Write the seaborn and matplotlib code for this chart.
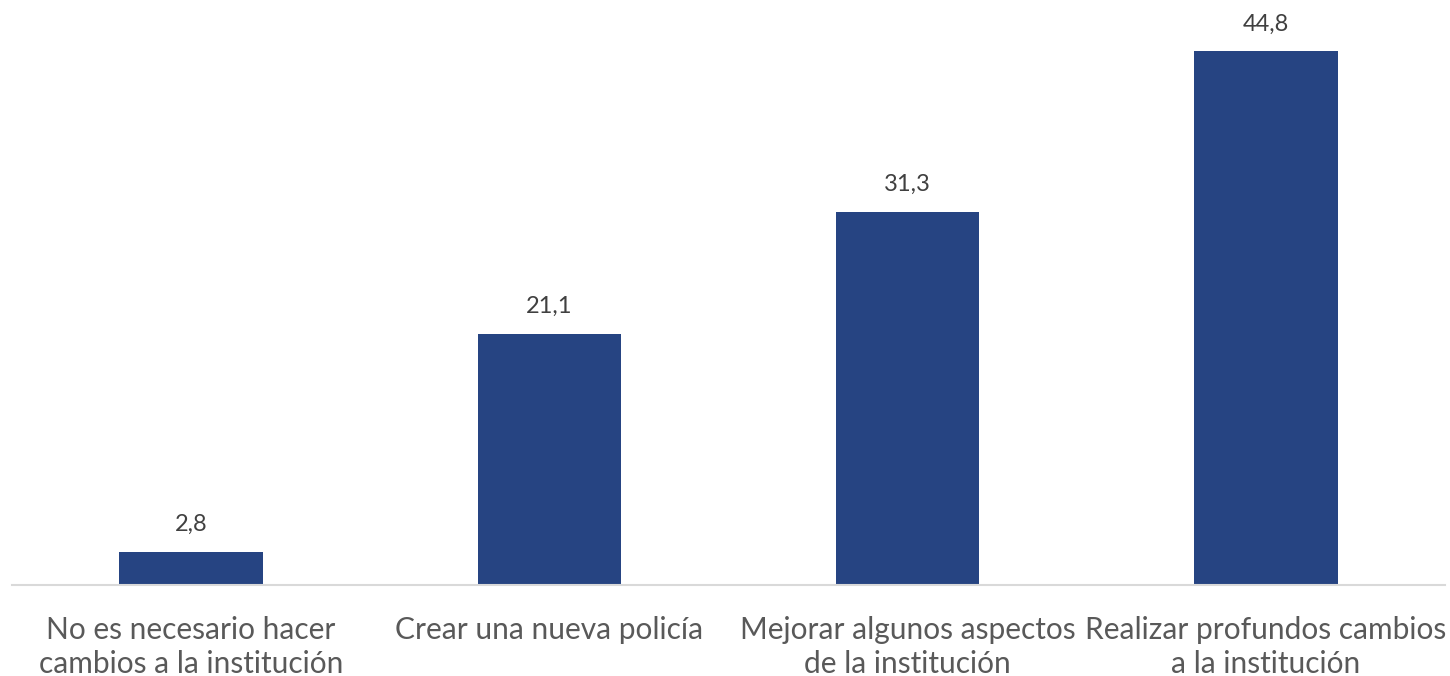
import matplotlib
matplotlib.use("Agg")
import matplotlib.pyplot as plt
import seaborn as sns
import pandas as pd

categories = ["No es necesario hacer\ncambios a la institución",
              "Crear una nueva policía",
              "Mejorar algunos aspectos\nde la institución",
              "Realizar profundos cambios\na la institución"]
values = [2.8, 21.1, 31.3, 44.8]
labels = ["2,8", "21,1", "31,3", "44,8"]

sns.set_theme(style="white")
plt.rcParams['font.family'] = ['Lato', 'DejaVu Sans']

df = pd.DataFrame({"cat": categories, "val": values})

fig = plt.figure(figsize=(14.5, 6.76), dpi=100)
ax = fig.add_axes([12/1450, 91/676, (1445-12)/1450, 585/676])
sns.barplot(data=df, x="cat", y="val", color="#264482", width=0.4, ax=ax,
            saturation=1, edgecolor="none")
ax.set_xlim(-0.5, 3.5)
ax.set_ylim(0, 49.08)
for i, (v, t) in enumerate(zip(values, labels)):
    ax.annotate(t, (i, v), xytext=(0, 12), textcoords="offset points",
                ha="center", va="bottom", fontsize=17, color="#404040")
for s in ["top", "right", "left"]:
    ax.spines[s].set_visible(False)
ax.spines["bottom"].set_color("#d9d9d9")
ax.spines["bottom"].set_linewidth(1.5)
ax.set_yticks([])
ax.set_xlabel("")
ax.set_ylabel("")
ax.tick_params(axis="x", length=0, pad=22, labelsize=21.5, labelcolor="#595959")
for lbl in ax.get_xticklabels():
    lbl.set_linespacing(1.3)
fig.savefig("out.png", dpi=100)
